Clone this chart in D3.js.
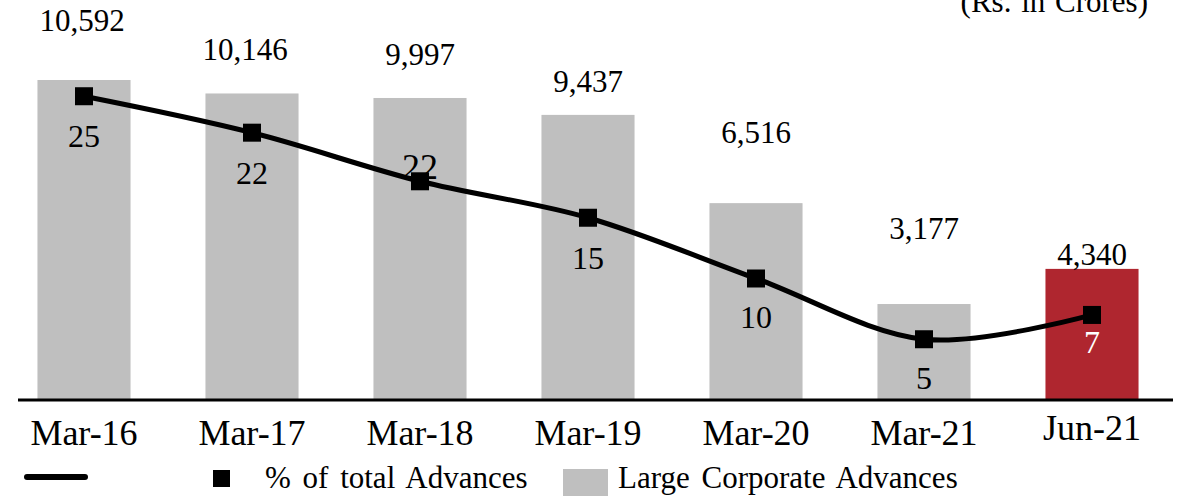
<!DOCTYPE html>
<html>
<head>
<meta charset="utf-8">
<script src="https://cdn.jsdelivr.net/npm/d3@7"></script>
<style>
  html, body { margin: 0; padding: 0; background: #fff; }
  svg { display: block; font-family: "Liberation Serif", "Times New Roman", serif; }
</style>
</head>
<body>
<svg id="chart" width="1178" height="496"></svg>
<script>
// ---- data ----
const categories = ["Mar-16", "Mar-17", "Mar-18", "Mar-19", "Mar-20", "Mar-21", "Jun-21"];
const advances = [10592, 10146, 9997, 9437, 6516, 3177, 4340];
const pctOfTotal = [25, 22, 18, 15, 10, 5, 7];
const pctLabels = ["25", "22", "22", "15", "10", "5", "7"];
const unitNote = "(Rs. in Crores)";
const legendLine = "% of total Advances";
const legendBar = "Large Corporate Advances";

// ---- layout (not data) ----
const W = 1178, H = 496, baseY = 400;
const valueLift = [49, 33, 33, 23, 60, 65, 4];
const valueDx = [-2, -7, 0, 0, 0, 0, 0];
const pctDrop = [51, 51, -2, 51, 50, 50, 38];
const pctSize = [32, 32, 36, 32, 32, 32, 32];
const pctColor = ["#000", "#000", "#000", "#000", "#000", "#000", "#fff"];
const barColors = ["#BFBFBF", "#BFBFBF", "#BFBFBF", "#BFBFBF", "#BFBFBF", "#BFBFBF", "#AF262F"];

const svg = d3.select("#chart");

const x = d3.scaleBand().domain(categories).range([0, 1176])
  .paddingInner(0.446).paddingOuter(0.223);
const y = d3.scaleLinear().domain([0, 13240]).range([baseY, 0]);
const y2 = d3.scaleLinear().domain([0, 32.92]).range([baseY, 0]);
const fmt = d3.format(",");

// bars
svg.append("g").selectAll("rect").data(advances).join("rect")
  .attr("x", (d, i) => x(categories[i]))
  .attr("width", x.bandwidth())
  .attr("y", d => y(d))
  .attr("height", d => y(0) - y(d))
  .attr("fill", (d, i) => barColors[i]);

// value labels
svg.append("g").selectAll("text").data(advances).join("text")
  .attr("x", (d, i) => x(categories[i]) + x.bandwidth() / 2 + valueDx[i])
  .attr("y", (d, i) => y(d) - valueLift[i])
  .attr("text-anchor", "middle")
  .attr("font-size", 31)
  .attr("fill", "#000")
  .text(d => fmt(d));

// axis baseline
svg.append("line")
  .attr("x1", 18).attr("x2", 1173)
  .attr("y1", baseY).attr("y2", baseY)
  .attr("stroke", "#000").attr("stroke-width", 3);

// x axis labels
const xAxis = d3.axisBottom(x).tickSize(0).tickPadding(0);
const gx = svg.append("g").attr("transform", `translate(0,${baseY})`).call(xAxis);
gx.select(".domain").remove();
gx.attr("font-family", null);
gx.selectAll("text")
  .attr("font-family", "Liberation Serif, serif")
  .attr("font-size", 36)
  .attr("fill", "#000")
  .attr("dy", null)
  .attr("y", d => d === "Jun-21" ? 40 : 45);

// percent labels (behind line)
svg.append("g").selectAll("text").data(pctOfTotal).join("text")
  .attr("x", (d, i) => x(categories[i]) + x.bandwidth() / 2)
  .attr("y", (d, i) => y2(d) + pctDrop[i])
  .attr("text-anchor", "middle")
  .attr("font-size", (d, i) => pctSize[i])
  .attr("fill", (d, i) => pctColor[i])
  .text((d, i) => pctLabels[i]);

// line
const line = d3.line()
  .x((d, i) => x(categories[i]) + x.bandwidth() / 2)
  .y(d => y2(d))
  .curve(d3.curveCardinal.tension(0));
svg.append("path").datum(pctOfTotal)
  .attr("d", line)
  .attr("fill", "none")
  .attr("stroke", "#000")
  .attr("stroke-width", 5)
  .attr("stroke-linejoin", "round");

// markers
const ms = 18;
svg.append("g").selectAll("rect").data(pctOfTotal).join("rect")
  .attr("x", (d, i) => x(categories[i]) + x.bandwidth() / 2 - ms / 2)
  .attr("y", d => y2(d) - ms / 2)
  .attr("width", ms).attr("height", ms)
  .attr("fill", "#000");

// unit note
svg.append("text")
  .attr("x", 1148).attr("y", 12)
  .attr("text-anchor", "end")
  .attr("font-size", 31)
  .attr("word-spacing", 2)
  .text(unitNote);

// legend
const lg = svg.append("g");
lg.append("line").attr("x1", 27).attr("x2", 85).attr("y1", 477).attr("y2", 477)
  .attr("stroke", "#000").attr("stroke-width", 6).attr("stroke-linecap", "round");
lg.append("rect").attr("x", 213).attr("y", 470).attr("width", 17).attr("height", 17).attr("fill", "#000");
lg.append("text").attr("x", 265).attr("y", 488).attr("font-size", 31).attr("word-spacing", 4).text(legendLine);
lg.append("rect").attr("x", 563).attr("y", 469).attr("width", 45).attr("height", 30).attr("fill", "#BFBFBF");
lg.append("text").attr("x", 618).attr("y", 488).attr("font-size", 31).attr("word-spacing", 4).text(legendBar);
</script>
</body>
</html>
